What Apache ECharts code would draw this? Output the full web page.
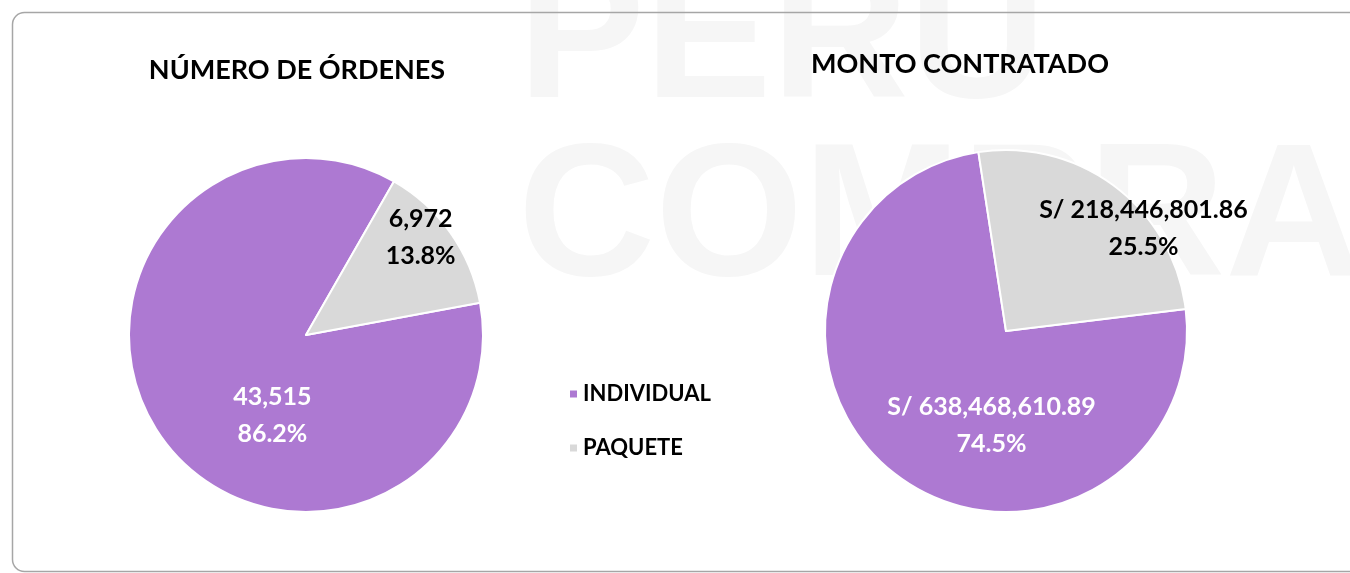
<!DOCTYPE html>
<html>
<head>
<meta charset="utf-8">
<script src="https://cdn.jsdelivr.net/npm/echarts@6/dist/echarts.min.js"></script>
<style>
  html, body { margin: 0; padding: 0; background: #fff; }
  #main { width: 1350px; height: 573px; }
</style>
</head>
<body>
<div id="main"></div>
<script>
// datos
const categorias = ['INDIVIDUAL', 'PAQUETE'];
const ordenes = [43515, 6972];
const montos = [638468610.89, 218446801.86];
const titulos = ['NÚMERO DE ÓRDENES', 'MONTO CONTRATADO'];

const colores = ['#ad79d2', '#d9d9d9'];
const fuente = 'Lato';

const chart = echarts.init(document.getElementById('main'));

function fmtNum(v, dec) {
  return v.toLocaleString('en-US', { minimumFractionDigits: dec, maximumFractionDigits: dec });
}

// desplazamiento de etiquetas (como en el original de Excel)
const offsetsOrd = [[41, 27], [40, -45]];
const offsetsMon = [[42, 20], [81, -28]];

function armarData(vals, offs) {
  return categorias.map((c, i) => ({
    name: c,
    value: vals[i],
    label: { offset: offs[i], color: i === 0 ? '#fff' : '#000' }
  }));
}

var option = {
  color: colores,
  animation: false,
  graphic: [
    // marca de agua
    { type: 'text', z: -10, left: 518, top: -50, style: { text: 'PERU', font: 'bold 190px "Liberation Sans"', fill: '#f6f6f6' } },
    { type: 'text', z: -10, left: 518, top: 128, style: { text: 'COMPRAS', font: 'bold 190px "Liberation Sans"', fill: '#f6f6f6' } },
    // marco
    { type: 'rect', z: -5, shape: { x: 12.5, y: 12.5, width: 1360, height: 559, r: 12 },
      style: { fill: 'none', stroke: '#a6a6a6', lineWidth: 1.5 } }
  ],
  title: [
    { text: titulos[0], left: 292, top: 52, textAlign: 'center',
      textStyle: { fontFamily: fuente, fontWeight: 'bold', fontSize: 27, color: '#000' } },
    { text: titulos[1], left: 955, top: 46, textAlign: 'center',
      textStyle: { fontFamily: fuente, fontWeight: 'bold', fontSize: 27, color: '#000' } }
  ],
  legend: {
    data: categorias,
    orient: 'vertical',
    left: 563,
    top: 378,
    itemWidth: 9,
    itemHeight: 9,
    itemGap: 32,
    icon: 'rect',
    textStyle: { fontFamily: fuente, fontWeight: 'bold', fontSize: 22, color: '#000' }
  },
  series: [
    {
      type: 'pie',
      center: [306, 335],
      radius: [0, 177],
      startAngle: 10.5,
      data: armarData(ordenes, offsetsOrd),
      itemStyle: { borderColor: '#fff', borderWidth: 2 },
      label: {
        position: 'inside',
        fontFamily: fuente, fontWeight: 'bold', fontSize: 25, lineHeight: 37,
        formatter: p => fmtNum(p.value, 0) + '\n' + p.percent.toFixed(1) + '%'
      },
      labelLine: { show: false },
      emphasis: { disabled: true }
    },
    {
      type: 'pie',
      center: [1006, 331],
      radius: [0, 181],
      startAngle: 7,
      data: armarData(montos, offsetsMon),
      itemStyle: { borderColor: '#fff', borderWidth: 2 },
      label: {
        position: 'inside',
        fontFamily: fuente, fontWeight: 'bold', fontSize: 25, lineHeight: 37,
        formatter: p => 'S/ ' + fmtNum(p.value, 2) + '\n' + p.percent.toFixed(1) + '%'
      },
      labelLine: { show: false },
      emphasis: { disabled: true }
    }
  ]
};
chart.setOption(option);
</script>
</body>
</html>
